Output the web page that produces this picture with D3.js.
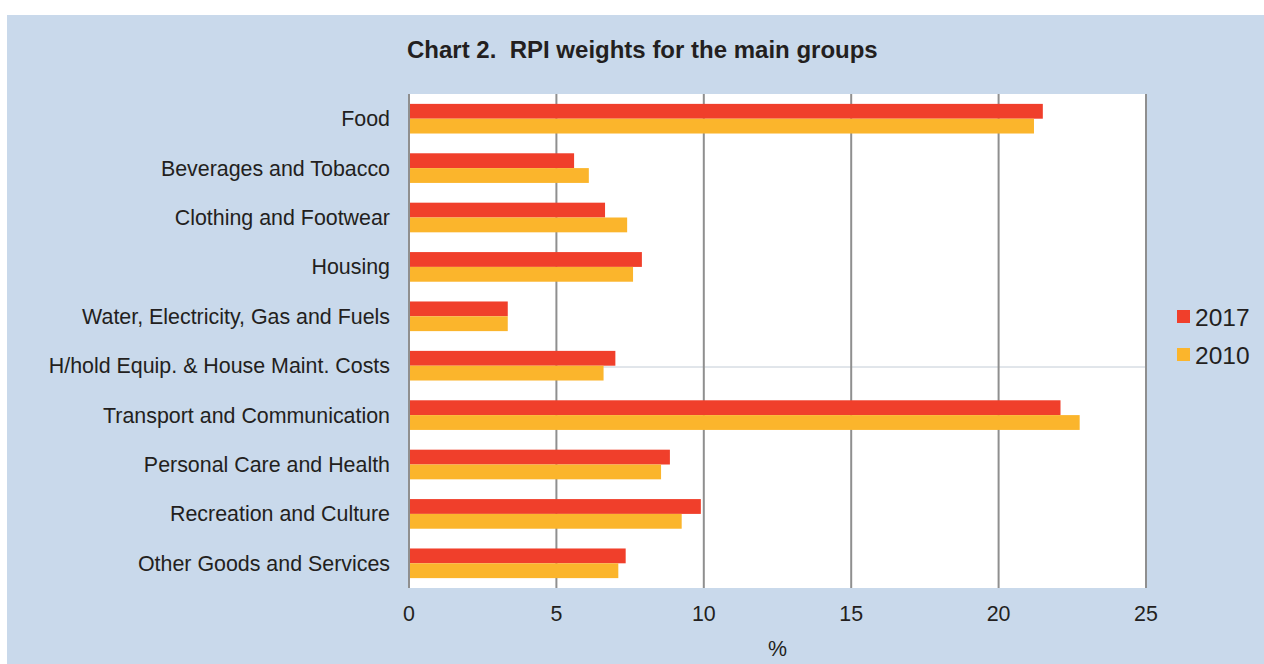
<!DOCTYPE html>
<html>
<head>
<meta charset="utf-8">
<script src="https://cdn.jsdelivr.net/npm/d3@7"></script>
<style>
  html, body { margin: 0; padding: 0; background: #ffffff; }
  svg { display: block; font-family: 'Liberation Sans', Arial, sans-serif; }
</style>
</head>
<body>
<div class="chart"></div>
<script>
'use strict';

const categories = ['Food', 'Beverages and Tobacco', 'Clothing and Footwear', 'Housing',
  'Water, Electricity, Gas and Fuels', 'H/hold Equip. & House Maint. Costs',
  'Transport and Communication', 'Personal Care and Health', 'Recreation and Culture',
  'Other Goods and Services'];
const seriesNames = ['2017', '2010'];
const values2017 = [21.5, 5.6, 6.65, 7.9, 3.35, 7.0, 22.1, 8.85, 9.9, 7.35];
const values2010 = [21.2, 6.1, 7.4, 7.6, 3.35, 6.6, 22.75, 8.55, 9.25, 7.1];
const xTicks = [0, 5, 10, 15, 20, 25];
const colors = ['#f03f2b', '#fbb52c'];

const FULL_WIDTH = 1264;
const FULL_HEIGHT = 664;
const margin = { top: 94, right: 118, bottom: 76, left: 409 };
const WIDTH = 1146 - margin.left;
const HEIGHT = 588 - margin.top;

const svg = d3.select('.chart')
  .append('svg')
    .attr('width', FULL_WIDTH)
    .attr('height', FULL_HEIGHT);

// blue card
svg.append('rect')
  .attr('x', 7)
  .attr('y', 15)
  .attr('width', FULL_WIDTH - 7)
  .attr('height', FULL_HEIGHT - 15)
  .attr('fill', '#c9d9eb');

svg.append('text')
  .attr('x', 407)
  .attr('y', 58)
  .attr('font-size', 24)
  .attr('font-weight', 'bold')
  .attr('fill', '#231f20')
  .attr('xml:space', 'preserve')
  .text('Chart 2.  RPI weights for the main groups');

const g = svg.append('g')
  .attr('transform', 'translate(' + margin.left + ',' + margin.top + ')');

const x = d3.scaleLinear()
  .domain([0, 25])
  .range([0, WIDTH]);

const y = d3.scaleBand()
  .domain(categories)
  .range([0, HEIGHT])
  .paddingInner(0.4)
  .paddingOuter(0.2);

const ySub = d3.scaleBand()
  .domain(seriesNames)
  .range([0, y.bandwidth()]);

g.append('rect')
  .attr('width', WIDTH)
  .attr('height', HEIGHT)
  .attr('fill', '#ffffff');

// faint stray line across the plot
g.append('line')
  .attr('x1', 0)
  .attr('x2', WIDTH)
  .attr('y1', 273)
  .attr('y2', 273)
  .attr('stroke', '#c3ccd6')
  .attr('stroke-width', 1);

// gridlines
g.selectAll('.grid')
  .data(xTicks)
  .enter()
  .append('line')
  .attr('class', 'grid')
  .attr('x1', (d) => x(d))
  .attr('x2', (d) => x(d))
  .attr('y1', 0)
  .attr('y2', HEIGHT)
  .attr('stroke', '#8f8f8f')
  .attr('stroke-width', 2);

const rows = categories.map((c, i) => ({ cat: c, vals: [values2017[i], values2010[i]] }));

const groups = g.selectAll('.row')
  .data(rows)
  .enter()
  .append('g')
  .attr('class', 'row')
  .attr('transform', (d) => 'translate(0,' + y(d.cat) + ')');

groups.selectAll('rect')
  .data((d) => d.vals.map((v, k) => ({ name: seriesNames[k], v: v, k: k })))
  .enter()
  .append('rect')
  .attr('x', 1)
  .attr('y', (d) => ySub(d.name))
  .attr('width', (d) => x(d.v) - 1)
  .attr('height', ySub.bandwidth())
  .attr('fill', (d) => colors[d.k]);

// category labels
g.selectAll('.cat-label')
  .data(categories)
  .enter()
  .append('text')
  .attr('class', 'cat-label')
  .attr('x', -19)
  .attr('y', (d) => y(d) + y.bandwidth() / 2)
  .attr('dy', '0.35em')
  .attr('text-anchor', 'end')
  .attr('font-size', 21.4)
  .attr('fill', '#231f20')
  .text((d) => d);

// x tick labels
g.selectAll('.tick-label')
  .data(xTicks)
  .enter()
  .append('text')
  .attr('class', 'tick-label')
  .attr('x', (d) => x(d))
  .attr('y', HEIGHT + 33)
  .attr('text-anchor', 'middle')
  .attr('font-size', 21.4)
  .attr('fill', '#231f20')
  .text((d) => d);

g.append('text')
  .attr('x', WIDTH / 2)
  .attr('y', HEIGHT + 68)
  .attr('text-anchor', 'middle')
  .attr('font-size', 21.4)
  .attr('fill', '#231f20')
  .text('%');

// legend
const legend = svg.selectAll('.legend')
  .data(seriesNames)
  .enter()
  .append('g')
  .attr('class', 'legend')
  .attr('transform', (d, i) => 'translate(1177,' + (310 + i * 38) + ')');

legend.append('rect')
  .attr('width', 13)
  .attr('height', 13)
  .attr('fill', (d, i) => colors[i]);

legend.append('text')
  .attr('x', 18)
  .attr('y', 15.5)
  .attr('font-size', 24.5)
  .attr('fill', '#231f20')
  .text((d) => d);
</script>
</body>
</html>
